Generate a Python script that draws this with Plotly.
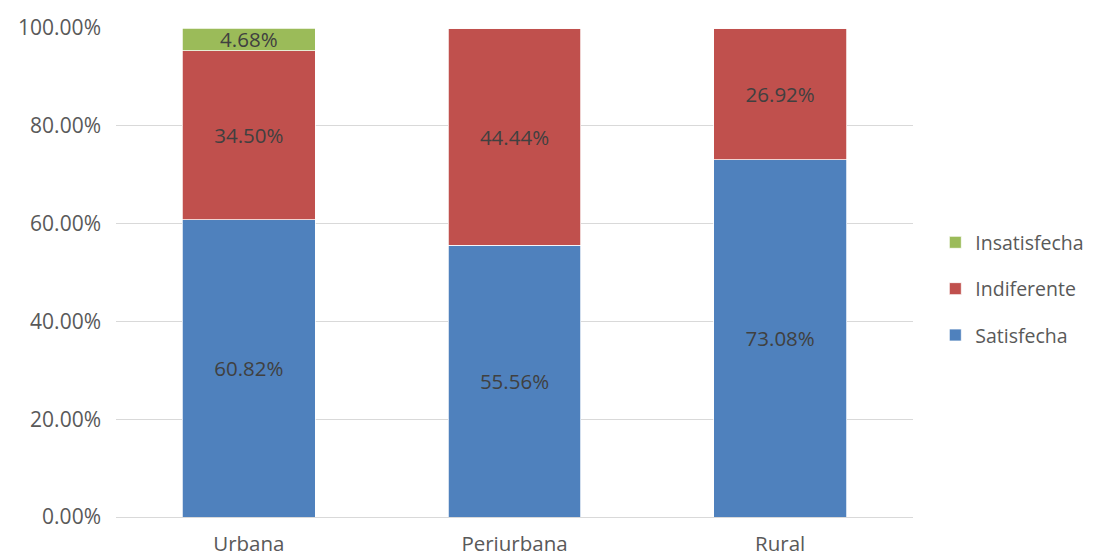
import plotly.graph_objects as go

categories = ["Urbana", "Periurbana", "Rural"]
satisfecha = [60.82, 55.56, 73.08]
indiferente = [34.50, 44.44, 26.92]
insatisfecha = [4.68, 0, 0]
series_names = ["Satisfecha", "Indiferente", "Insatisfecha"]
colors = ["#4F81BD", "#C0504D", "#9BBB59"]
legend_ranks = [3, 2, 1]
tick_vals = [0, 20, 40, 60, 80, 100]

FONT = "Open Sans"
fig = go.Figure()
for name, vals, col, rank in zip(series_names, [satisfecha, indiferente, insatisfecha], colors, legend_ranks):
    fig.add_trace(go.Bar(
        x=categories, y=vals, name=name,
        marker=dict(color=col, line=dict(color="white", width=0.75)),
        text=[f"{v:.2f}%" if v > 0 else "" for v in vals],
        textposition="inside", insidetextanchor="middle",
        constraintext="none",
        textfont=dict(family=FONT, size=20.5, color="#404040"),
        width=0.5, legendgroup=name, legendrank=rank,
        hoverinfo="skip",
    ))

fig.update_layout(
    barmode="stack",
    width=1093, height=559,
    paper_bgcolor="white", plot_bgcolor="white",
    margin=dict(l=108, r=188, t=20, b=50, autoexpand=False),
    font=dict(family=FONT, size=21, color="#595959"),
    legend=dict(
        traceorder="grouped", tracegroupgap=18,
        x=1.028, xanchor="left", y=0.466, yanchor="middle",
        font=dict(family=FONT, size=19.5, color="#595959"),
        itemwidth=30,
    ),
    xaxis=dict(
        showgrid=False, showline=True, linecolor="#D9D9D9", linewidth=1,
        ticks="", tickfont=dict(size=20.5), ticklabelstandoff=8, automargin=False,
    ),
    yaxis=dict(
        range=[0, 100], tickvals=tick_vals,
        ticktext=[f"{v:.2f}%" for v in tick_vals],
        showgrid=True, gridcolor="#D9D9D9", gridwidth=1,
        zeroline=False, showline=False, ticks="",
        tickfont=dict(size=21), ticklabelstandoff=14, automargin=False,
    ),
)

fig.write_html("out.html")
